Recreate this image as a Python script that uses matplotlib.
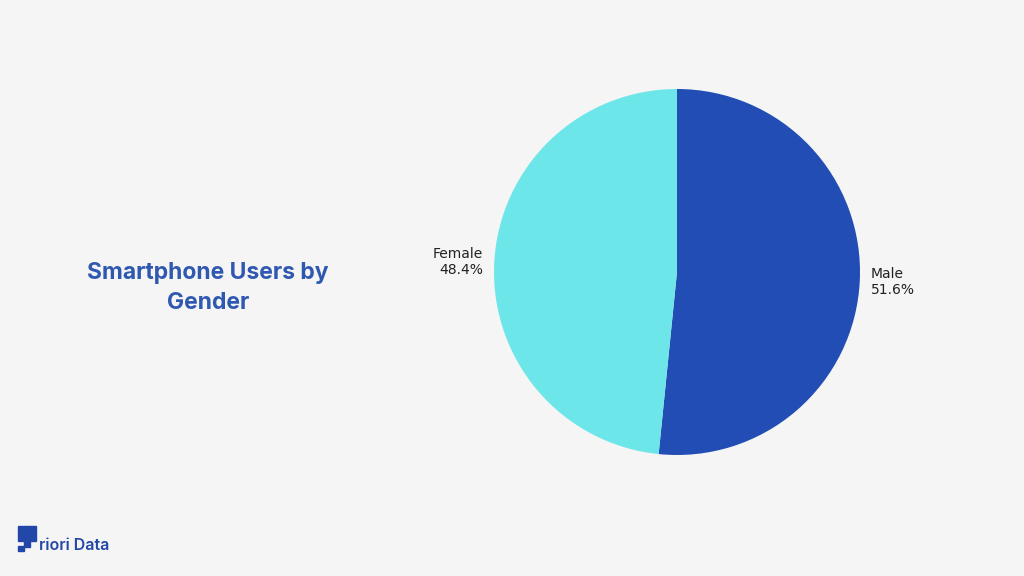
import matplotlib
matplotlib.use("Agg")
from matplotlib import pyplot as plt
from matplotlib.patches import Rectangle

labels = ["Male", "Female"]
shares = [51.6, 48.4]
colors = ["#224DB4", "#6DE6E9"]

fig = plt.figure(figsize=(10.24, 5.76), dpi=100)
fig.patch.set_facecolor("#F5F5F5")

# pie centred near (677, 272) px, radius ~183 px
axis = fig.add_axes([(677 - 183) / 1024, 1 - (272 + 183) / 576, 366 / 1024, 366 / 576])
axis.pie(
    shares,
    labels=[f"{l}\n{v}%" for l, v in zip(labels, shares)],
    colors=colors,
    startangle=90,
    counterclock=False,
    labeldistance=1.06,
    textprops={"fontsize": 10, "color": "#222222", "family": "DejaVu Sans"},
)
axis.set_xlim(-1, 1)
axis.set_ylim(-1, 1)
axis.set_aspect("equal")

fig.text(208 / 1024, 1 - 288 / 576, "Smartphone Users by\nGender", ha="center", va="center",
         fontsize=16.5, fontweight="bold", color="#2F58B0", family="Inter", linespacing=1.5)

# logo
lx = fig.add_axes([0, 0, 1, 1], facecolor="none")
lx.set_xlim(0, 1024)
lx.set_ylim(576, 0)
lx.axis("off")
lx.add_patch(Rectangle((18, 526), 18, 15, color="#2347A8"))
lx.add_patch(Rectangle((24, 541), 6, 6, color="#2347A8"))
lx.add_patch(Rectangle((18, 546), 6, 5, color="#2347A8"))
lx.text(39, 545, "riori Data", fontsize=11.5, fontweight="semibold", color="#2347A8",
        family="Inter", va="center")

fig.savefig("out.png", dpi=100, facecolor=fig.get_facecolor())
